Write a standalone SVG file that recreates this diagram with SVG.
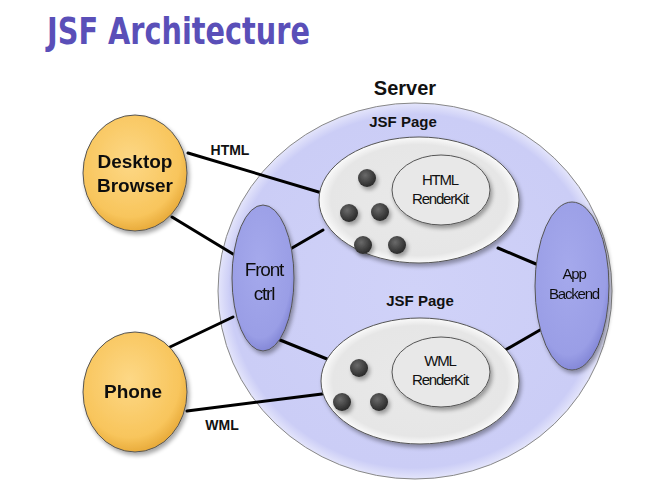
<svg xmlns="http://www.w3.org/2000/svg" width="645" height="484" viewBox="0 0 645 484">
<defs>
<radialGradient id="gOrange" cx="0.45" cy="0.4" r="0.6">
<stop offset="0" stop-color="#fdd886"/><stop offset="0.8" stop-color="#f8c55c"/><stop offset="1" stop-color="#e9ac3c"/>
</radialGradient>
<radialGradient id="gServer" cx="0.5" cy="0.5" r="0.5">
<stop offset="0" stop-color="#d0d2f8"/><stop offset="0.94" stop-color="#cbcdf6"/><stop offset="1" stop-color="#e4e5fb"/>
</radialGradient>
<radialGradient id="gBlue" cx="0.45" cy="0.4" r="0.6">
<stop offset="0" stop-color="#a5a9ec"/><stop offset="0.85" stop-color="#9a9ee6"/><stop offset="1" stop-color="#8589d8"/>
</radialGradient>
<radialGradient id="gPage" cx="0.5" cy="0.5" r="0.5">
<stop offset="0" stop-color="#e9e9e9"/><stop offset="0.88" stop-color="#e6e6e6"/><stop offset="1" stop-color="#fafafa"/>
</radialGradient>
<radialGradient id="gDot" cx="0.4" cy="0.35" r="0.6">
<stop offset="0" stop-color="#6a6a6a"/><stop offset="1" stop-color="#2e2e2e"/>
</radialGradient>
<filter id="sh" x="-20%" y="-20%" width="140%" height="140%">
<feGaussianBlur in="SourceAlpha" stdDeviation="2"/><feOffset dx="2" dy="3"/>
<feComponentTransfer><feFuncA type="linear" slope="0.35"/></feComponentTransfer>
<feMerge><feMergeNode/><feMergeNode in="SourceGraphic"/></feMerge>
</filter>
</defs>
<style>
.title{font-family:"DejaVu Sans Condensed","DejaVu Sans",sans-serif;font-weight:bold;font-size:38px;fill:#5a4fb8}
.lbl{font-family:"Liberation Sans",Arial,sans-serif;font-weight:bold;fill:#111}
.thin{font-family:"Liberation Sans Narrow","Liberation Sans",Arial,sans-serif;fill:#111;letter-spacing:-1.2px}
.conn line{stroke:#000;stroke-width:3;stroke-linecap:round}
.edge{stroke:#555;stroke-width:1}
</style>
<text class="title" x="47" y="44" textLength="263" lengthAdjust="spacingAndGlyphs">JSF Architecture</text>

<g id="server">
<ellipse cx="415" cy="291" rx="197" ry="188" fill="url(#gServer)" stroke="#888" stroke-width="1"/>
<text class="lbl" x="405" y="95" font-size="20" text-anchor="middle">Server</text>
</g>

<g class="conn">
<line x1="188" y1="153" x2="322" y2="193"/>
<line x1="172" y1="217" x2="233" y2="254"/>
<line x1="292" y1="248" x2="323" y2="230"/>
<line x1="233" y1="317" x2="170" y2="347"/>
<line x1="280" y1="340" x2="327" y2="359"/>
<line x1="187" y1="411" x2="322" y2="394"/>
<line x1="498" y1="248" x2="536" y2="264"/>
<line x1="500" y1="353" x2="540" y2="330"/>
</g>

<g id="desktop" filter="url(#sh)">
<ellipse cx="135" cy="173" rx="52" ry="58" fill="url(#gOrange)" class="edge"/>
<text class="lbl" x="135" y="168" font-size="19" text-anchor="middle">Desktop</text>
<text class="lbl" x="135" y="192" font-size="19" text-anchor="middle">Browser</text>
</g>
<g id="phone" filter="url(#sh)">
<ellipse cx="135" cy="392" rx="52" ry="60" fill="url(#gOrange)" class="edge"/>
<text class="lbl" x="133" y="398" font-size="19" text-anchor="middle">Phone</text>
</g>

<g id="frontctrl" filter="url(#sh)">
<ellipse cx="263" cy="278" rx="31" ry="73" fill="url(#gBlue)" class="edge"/>
<text class="thin" x="264" y="276" font-size="19" text-anchor="middle">Front</text>
<text class="thin" x="264" y="300" font-size="19" text-anchor="middle">ctrl</text>
</g>

<g id="backend" filter="url(#sh)">
<ellipse cx="572" cy="286" rx="37" ry="84" fill="url(#gBlue)" class="edge"/>
<text class="thin" x="574" y="279" font-size="15" text-anchor="middle">App</text>
<text class="thin" x="574" y="299" font-size="15" text-anchor="middle">Backend</text>
</g>

<g id="page1">
<text class="lbl" x="403" y="127" font-size="15" text-anchor="middle">JSF Page</text>
<ellipse cx="419" cy="200" rx="100" ry="63" fill="url(#gPage)" class="edge" filter="url(#sh)"/>
<ellipse cx="441" cy="190" rx="49" ry="35" fill="#e8e8e8" class="edge" filter="url(#sh)"/>
<text class="thin" x="440" y="185" font-size="15" text-anchor="middle">HTML</text>
<text class="thin" x="440" y="204" font-size="15" text-anchor="middle">RenderKit</text>
<g fill="url(#gDot)" filter="url(#sh)">
<circle cx="367" cy="178" r="9"/><circle cx="349" cy="213" r="9"/><circle cx="380" cy="212" r="9"/>
<circle cx="363" cy="245" r="9"/><circle cx="397" cy="245" r="9"/>
</g>
</g>

<g id="page2">
<text class="lbl" x="420" y="306" font-size="15" text-anchor="middle">JSF Page</text>
<ellipse cx="420" cy="381" rx="99" ry="63" fill="url(#gPage)" class="edge" filter="url(#sh)"/>
<ellipse cx="441" cy="372" rx="49" ry="35" fill="#e8e8e8" class="edge" filter="url(#sh)"/>
<text class="thin" x="440" y="366" font-size="15" text-anchor="middle">WML</text>
<text class="thin" x="440" y="385" font-size="15" text-anchor="middle">RenderKit</text>
<g fill="url(#gDot)" filter="url(#sh)">
<circle cx="359" cy="368" r="9"/><circle cx="342" cy="402" r="9"/><circle cx="379" cy="402" r="9"/>
</g>
</g>

<text class="lbl" x="230" y="155" font-size="14" text-anchor="middle">HTML</text>
<text class="lbl" x="222" y="430" font-size="14" text-anchor="middle">WML</text>
</svg>
